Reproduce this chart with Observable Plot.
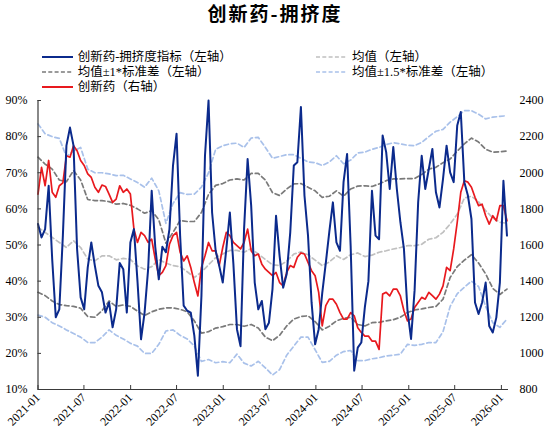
<!DOCTYPE html>
<html><head><meta charset="utf-8">
<script src="https://cdn.jsdelivr.net/npm/d3@7"></script>
<script src="https://cdn.jsdelivr.net/npm/@observablehq/plot@0.6"></script>
<style>
body{margin:0;background:#fff;}
#wrap{position:relative;width:550px;height:438px;font-family:"Liberation Serif","Noto Sans CJK SC",serif;color:#000;}
#plot{position:absolute;left:0;top:0;}
#title{position:absolute;left:0;top:2px;width:550px;text-align:center;font-family:"Noto Sans CJK SC",sans-serif;font-weight:700;font-size:19px;letter-spacing:2px;line-height:22px;}
.lg{position:absolute;height:15px;display:flex;align-items:center;font-size:12.5px;white-space:nowrap;line-height:15px;}
.lg svg{margin-right:4.5px;}
</style></head><body>
<div id="wrap"><div id="plot"></div><div id="title">创新药-拥挤度</div><div id="legend"></div></div>
<script>
// ---- data (biweekly from 2021-01-01 for index & price; 4-weekly for the bands) ----
const crowd = [
55.8,52.1,54.4,66.4,46,30,32.2,52.6,77.5,82.5,
77.5,48.9,35.5,32.2,43.8,50.7,44.3,38.7,36.9,31.3,
34.1,27.2,32.2,45,43.3,31.3,50.7,54.4,40,23.9,
31.3,43.3,65,49.5,40.5,49.5,48,54.4,72,80.8,
52.6,33.2,31.8,31.3,24.9,13.8,35.9,74.7,90,59,
48.4,44.3,39.6,48.8,59,44.7,26.7,22,54.4,73.8,
60.9,39.6,32.2,34.5,26.7,28.5,37.8,58.1,47,38.2,
42,53.5,72,72.9,88.2,63.7,52.6,34.1,22.5,26.7,
36.7,45,53.7,61.8,50.7,48.4,67.4,75.2,49.7,15.2,
21.6,23,32.8,40,65,52.6,51.6,80.3,75.7,65.5,
77.1,65.5,56.3,48.9,31.8,24,37.5,61.8,74.7,65.5,
71,76.6,64.6,60.4,68.3,77.5,70.1,67.4,83.1,86.8,
67.4,63.7,57.2,34.1,30.9,34.1,39.6,27.6,25.8,29.9,
39.6,67.8,52.6];
const price = [
1882,2030,1928,2068,1892,1864,1928,1944,2094,2086,
2150,2122,2068,2040,1994,1974,1920,1892,1932,1924,
1882,1836,1854,1928,1892,1910,1882,1688,1614,1670,
1652,1614,1632,1522,1430,1448,1486,1604,1652,1670,
1560,1512,1540,1476,1392,1318,1476,1540,1614,1568,
1568,1486,1586,1670,1652,1614,1596,1578,1614,1688,
1568,1540,1550,1494,1466,1448,1430,1448,1392,1374,
1448,1486,1476,1532,1556,1550,1504,1458,1430,1338,
1152,1264,1300,1300,1272,1226,1190,1190,1226,1208,
1142,1116,1096,1096,1068,1068,1022,1328,1338,1318,
1356,1356,1318,1236,1180,1190,1254,1282,1310,1300,
1338,1320,1300,1328,1374,1476,1458,1578,1726,1892,
1956,1948,1920,1864,1818,1826,1762,1716,1762,1734,
1818,1818,1734];
const mean = [
54.9,53.5,52.1,50.7,49.3,51.2,49.3,46.1,45.6,47,47,45.9,
46.3,46,44.2,43.3,44,46,45,44.3,44,42.6,41,
42.5,44.5,46.5,47.5,48.5,48.5,48,49,47.5,46,44.5,
44.3,45.5,47.5,48.1,47.3,45.8,44.3,45.3,47,46,47.3,47.8,
46.8,47.2,48,48.4,48.9,49.3,49.8,49.8,50.2,51.6,52,
53.5,55.8,58.5,63,63.5,62,59.5,57.5,56.3,56];
const upper1 = [
74.3,72.4,71,68,67.5,70.6,68,62.6,62.3,62.3,62,61.3,
61.5,61,60,58.8,59.5,57,50.5,53.5,56.8,56.5,56.5,
59,64,66.5,67,68,68.3,68,69.8,69.8,68,64.5,
63.7,65.5,66.9,67,66,65,63.2,63.5,65,63.5,65.5,66.3,
66.4,66.2,66.9,67.8,68.3,68.3,68.4,68.4,69.5,71,71.5,
72.8,73.8,76,78,79.6,78.5,76.5,75.7,75.8,76];
const lower1 = [
36.9,36,34.5,33.5,33.2,33,32.5,30.2,30,31.8,34.5,33,
33.4,33,31.7,30.5,31.5,32.2,32.6,32.6,32.2,31.5,29,
25.6,26,27,27.4,28,28,27.5,28,27,24.5,23.5,
25,27.6,29.5,30.2,30.4,28.8,26.5,27.5,29,29.7,30,28,
27.6,28.5,28.6,29,29.3,30,31.3,32,32.3,32.7,33,
35,41,44,45.8,47.3,45,42,38,36.3,37.8];
const upper15 = [
83.5,80.8,80,79.5,74.5,76,77,71,70,70,69.7,69.2,
69.3,68.3,67.3,66,68.5,65,56,61.5,64.5,64,64.1,
66,70,76.5,77.5,78,78.2,77,79.6,79.8,77,74,
74.5,75,75,74,73,72.8,72,73,74.7,72.5,73.5,75.5,
75.7,76.5,77,77.8,78.3,78,77.6,77.5,78.4,80,81.5,
82,84,85.5,87.2,87.2,86.2,84.9,85.4,85.6,85.8];
const lower15 = [
30.6,30,28.5,27.6,26.5,25.5,24.5,23,23,24.5,26.5,25,
24,22.8,22,20,20,22.5,26.2,26.5,25,24,22,
17.8,18.3,17.4,17.7,17.4,19.8,17.3,16.5,17.8,16,14,
15.5,19.5,22,24.5,24.5,21,17.5,17.8,19.5,20.5,20.8,18,
18,18.5,18.8,19.3,19.5,19.8,22.5,22.2,22.5,23,23,
26,33,36.5,38.3,40,38.5,33,28.5,27.2,29.5];
const leftTicks = [10,20,30,40,50,60,70,80,90];
const rightTicks = [800,1000,1200,1400,1600,1800,2000,2200,2400];
const legendLabels = ["创新药-拥挤度指标（左轴）","均值（左轴）","均值±1*标准差（左轴）","均值±1.5*标准差（左轴）","创新药（右轴）"];

// ---- build ----
const start = new Date(Date.UTC(2021,0,1));
const end = new Date(Date.UTC(2026,0,29));
const toLeft = v => 10 + (v - 800) / 20;
const toRight = p => Math.round(800 + (p - 10) * 20);
const d2 = i => d3.utcDay.offset(start, 14 * i);
const d4 = i => d3.utcDay.offset(start, 28 * i);
const crowdData = crowd.map((v, i) => ({date: d2(i), v}));
const priceData = price.map((v, i) => ({date: d2(i), v: toLeft(v)}));
const band = arr => arr.map((v, i) => ({date: d4(i), v}));
const xTicks = d3.utcMonth.every(6).range(start, d3.utcDay.offset(end, 1));

const C = {blue:"#0b2a8c", red:"#e8191e", mean:"#c0c0c0", sd1:"#7a7a7a", sd15:"#a9c1ea"};
const dash = "4.5,3";

const chart = Plot.plot({
  width: 550, height: 438,
  marginTop: 100, marginBottom: 49, marginLeft: 37.5, marginRight: 42,
  style: {fontFamily: '"Liberation Serif", serif', fontSize: "12px", color: "#000", background: "transparent", overflow: "visible"},
  x: {type: "utc", domain: [start, end], label: null},
  y: {domain: [10, 90], label: null},
  marks: [
    Plot.lineY(band(upper15), {x: "date", y: "v", stroke: C.sd15, strokeWidth: 1.7, strokeDasharray: dash}),
    Plot.lineY(band(lower15), {x: "date", y: "v", stroke: C.sd15, strokeWidth: 1.7, strokeDasharray: dash}),
    Plot.lineY(band(mean), {x: "date", y: "v", stroke: C.mean, strokeWidth: 1.7, strokeDasharray: dash}),
    Plot.lineY(band(upper1), {x: "date", y: "v", stroke: C.sd1, strokeWidth: 1.7, strokeDasharray: dash}),
    Plot.lineY(band(lower1), {x: "date", y: "v", stroke: C.sd1, strokeWidth: 1.7, strokeDasharray: dash}),
    Plot.lineY(priceData, {x: "date", y: "v", stroke: C.red, strokeWidth: 1.7}),
    Plot.lineY(crowdData, {x: "date", y: "v", stroke: C.blue, strokeWidth: 2}),
    Plot.ruleX([start], {stroke: "#3a3a3a", strokeWidth: 1.2}),
    Plot.ruleY([10], {stroke: "#3a3a3a", strokeWidth: 1.2}),
    Plot.axisY(leftTicks, {anchor: "left", label: null, tickSize: -3.5, tickPadding: 14, stroke: "#3a3a3a", tickFormat: d => d + "%"}),
    Plot.axisY(rightTicks.map(toLeft), {anchor: "right", label: null, tickSize: 0, tickPadding: 11, tickFormat: d => String(toRight(d))}),
    Plot.axisX(xTicks, {anchor: "bottom", label: null, tickSize: -4, tickPadding: 10, tickRotate: -45, stroke: "#3a3a3a", tickFormat: d3.utcFormat("%Y-%m")})
  ]
});
document.getElementById("plot").appendChild(chart);

// ---- legend ----
const lgStyles = [
  {color: C.blue, dash: null}, {color: C.mean, dash: "4,2.3"}, {color: C.sd1, dash: "4,2.3"},
  {color: C.sd15, dash: "4,2.3"}, {color: C.red, dash: null}
];
const lgPos = [[41.7,57],[316,57],[41.7,72],[316,72],[41.7,87]];
const lg = document.getElementById("legend");
legendLabels.forEach((lab, i) => {
  const s = lgStyles[i], [x, y] = lgPos[i];
  const el = document.createElement("div");
  el.className = "lg";
  el.style.left = x + "px";
  el.style.top = (y - 7.5) + "px";
  el.innerHTML = `<svg width="31.5" height="4"><line x1="0" x2="31.5" y1="2" y2="2" stroke="${s.color}" stroke-width="${s.dash ? 1.6 : 2}" ${s.dash ? `stroke-dasharray="${s.dash}"` : ""}/></svg>`;
  const t = document.createElement("span");
  t.textContent = lab;
  el.appendChild(t);
  lg.appendChild(el);
});
</script>
</body></html>
